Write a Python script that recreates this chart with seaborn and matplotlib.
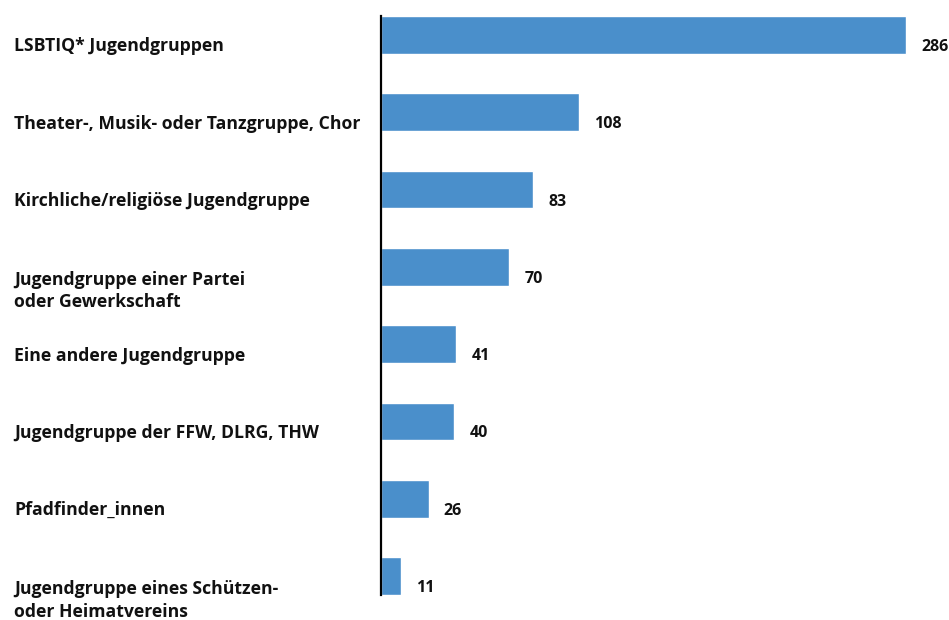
import matplotlib
matplotlib.use("Agg")
import matplotlib.pyplot as plt
import matplotlib.transforms as mtransforms
import seaborn as sns
import pandas as pd

# ── Data ──────────────────────────────────────────────────────────────────────
categories = [
    "LSBTIQ* Jugendgruppen",
    "Theater-, Musik- oder Tanzgruppe, Chor",
    "Kirchliche/religiöse Jugendgruppe",
    "Jugendgruppe einer Partei\noder Gewerkschaft",
    "Eine andere Jugendgruppe",
    "Jugendgruppe der FFW, DLRG, THW",
    "Pfadfinder_innen",
    "Jugendgruppe eines Schützen-\noder Heimatvereins",
]
values = [286, 108, 83, 70, 41, 40, 26, 11]

df = pd.DataFrame({"group": categories, "count": values})

BAR_COLOR = "#4A8FCB"

sns.set_theme(style="white")
plt.rcParams["font.family"] = ["Open Sans", "DejaVu Sans"]

fig = plt.figure(figsize=(9.49, 6.2), dpi=100)
ax = fig.add_axes([381 / 949, 1 - 595 / 620, 1 - 381 / 949, (595 - 16) / 620])

sns.barplot(data=df, x="count", y="group", orient="h", color=BAR_COLOR,
            width=0.49, saturation=1, ax=ax)

ax.set_xlim(0, (949 - 381) / ((906 - 381) / 286))
ax.set_ylim(len(values) - 1 + 0.245, -0.245)
ax.set_xlabel("")
ax.set_ylabel("")
ax.set_xticks([])
ax.set_yticks([])
for side in ["top", "right", "bottom"]:
    ax.spines[side].set_visible(False)
ax.spines["left"].set_color("black")
ax.spines["left"].set_linewidth(1.6)

# category labels, left-aligned at the figure edge, slightly below bar centre
label_trans = mtransforms.blended_transform_factory(fig.transFigure, ax.transData)
for i, name in enumerate(categories):
    two_lines = "\n" in name
    dy = -24.5 if two_lines else -11.5
    off = mtransforms.ScaledTranslation(0, dy / 100, fig.dpi_scale_trans)
    ax.text(14 / 949, i, name, transform=label_trans + off, ha="left", va="center",
            fontsize=12.7, fontweight="bold", color="#111111", linespacing=1.3,
            clip_on=False)

# value labels
for i, v in enumerate(values):
    off = mtransforms.ScaledTranslation(15 / 100, -12 / 100, fig.dpi_scale_trans)
    ax.text(v, i, str(v), transform=ax.transData + off, ha="left", va="center",
            fontsize=11.5, fontweight="bold", color="#111111", clip_on=False)

fig.savefig("out.png", dpi=100)
